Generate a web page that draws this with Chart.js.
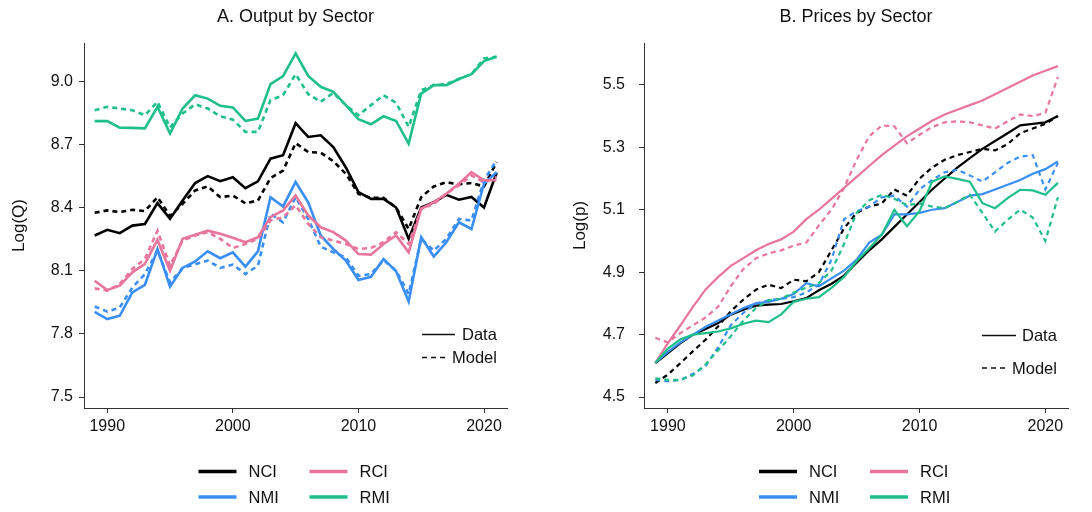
<!DOCTYPE html>
<html>
<head>
<meta charset="utf-8">
<script src="https://cdn.jsdelivr.net/npm/chart.js@4.4.1/dist/chart.umd.min.js"></script>
<style>
  body { margin: 0; background: #fff; }
  canvas { position: absolute; top: 0; }
</style>
</head>
<body>
<canvas id="chartQ" width="546" height="512" style="left:0"></canvas>
<canvas id="chartP" width="546" height="512" style="left:546px"></canvas>
<script>
// años y etiquetas
const years = [1989, 1990, 1991, 1992, 1993, 1994, 1995, 1996, 1997, 1998, 1999, 2000, 2001, 2002, 2003, 2004, 2005,
  2006, 2007, 2008, 2009, 2010, 2011, 2012, 2013, 2014, 2015, 2016, 2017, 2018, 2019, 2020, 2021];
const yearTicks = [1990, 2000, 2010, 2020];
const qTicks = [7.5, 7.8, 8.1, 8.4, 8.7, 9.0];
const pTicks = [4.5, 4.7, 4.9, 5.1, 5.3, 5.5];
const sectores = ["NCI", "NMI", "RCI", "RMI"];

// * #### A. OUTPUT (Log Q) ####
const q_nci_data = [8.267, 8.294, 8.278, 8.314, 8.322, 8.421, 8.346, 8.433, 8.516, 8.549, 8.525, 8.544, 8.492, 8.524, 8.632, 8.648, 8.80,
  8.735, 8.743, 8.687, 8.59, 8.473, 8.441, 8.441, 8.40, 8.251, 8.40, 8.425, 8.46, 8.437, 8.45, 8.40, 8.565];
const q_nci_model = [8.375, 8.386, 8.378, 8.389, 8.383, 8.449, 8.36, 8.417, 8.481, 8.50, 8.449, 8.457, 8.42, 8.433, 8.54, 8.575, 8.706,
  8.663, 8.66, 8.62, 8.56, 8.465, 8.446, 8.446, 8.40, 8.298, 8.449, 8.50, 8.52, 8.51, 8.516, 8.50, 8.615];
const q_nmi_data = [7.904, 7.87, 7.886, 7.997, 8.033, 8.203, 8.024, 8.113, 8.144, 8.192, 8.159, 8.187, 8.119, 8.192, 8.449, 8.405, 8.521,
  8.425, 8.267, 8.203, 8.148, 8.056, 8.071, 8.156, 8.097, 7.954, 8.259, 8.167, 8.235, 8.33, 8.298, 8.513, 8.568];
const q_nmi_model = [7.93, 7.906, 7.925, 8.02, 8.084, 8.195, 8.044, 8.113, 8.13, 8.148, 8.113, 8.129, 8.084, 8.124, 8.37, 8.33, 8.449,
  8.346, 8.214, 8.187, 8.163, 8.076, 8.084, 8.15, 8.10, 7.99, 8.251, 8.195, 8.251, 8.346, 8.338, 8.529, 8.624];
const q_rci_data = [8.052, 8.008, 8.029, 8.092, 8.132, 8.246, 8.10, 8.251, 8.271, 8.29, 8.275, 8.256, 8.235, 8.259, 8.354, 8.386, 8.457,
  8.362, 8.306, 8.283, 8.243, 8.179, 8.176, 8.227, 8.267, 8.187, 8.394, 8.425, 8.465, 8.513, 8.568, 8.529, 8.529];
const q_rci_model = [8.016, 8.005, 8.037, 8.108, 8.156, 8.29, 8.124, 8.243, 8.267, 8.283, 8.251, 8.208, 8.227, 8.251, 8.338, 8.354, 8.41,
  8.322, 8.259, 8.243, 8.227, 8.203, 8.208, 8.235, 8.283, 8.227, 8.394, 8.417, 8.465, 8.505, 8.552, 8.52, 8.544];
const q_rmi_data = [8.81, 8.81, 8.779, 8.778, 8.776, 8.878, 8.751, 8.87, 8.933, 8.917, 8.883, 8.875, 8.811, 8.822, 8.986, 9.024, 9.132,
  9.025, 8.973, 8.949, 8.886, 8.819, 8.795, 8.833, 8.811, 8.703, 8.941, 8.981, 8.981, 9.01, 9.033, 9.095, 9.116];
const q_rmi_model = [8.862, 8.878, 8.87, 8.862, 8.838, 8.902, 8.78, 8.846, 8.89, 8.87, 8.833, 8.817, 8.759, 8.759, 8.91, 8.933, 9.033,
  8.938, 8.902, 8.944, 8.886, 8.838, 8.886, 8.933, 8.897, 8.783, 8.957, 8.981, 8.986, 9.01, 9.033, 9.108, 9.116];

// * #### B. PRICES (Log p) ####
const p_nci_data = [4.609, 4.641, 4.673, 4.70, 4.718, 4.737, 4.764, 4.78, 4.793, 4.796, 4.798, 4.807, 4.817, 4.842, 4.863, 4.889, 4.93,
  4.97, 5.005, 5.045, 5.085, 5.125, 5.165, 5.20, 5.235, 5.265, 5.295, 5.32, 5.345, 5.37, 5.375, 5.38, 5.40];
const p_nci_model = [4.545, 4.572, 4.609, 4.647, 4.684, 4.727, 4.775, 4.812, 4.844, 4.86, 4.849, 4.876, 4.871, 4.90, 4.97, 5.04, 5.09,
  5.11, 5.12, 5.165, 5.145, 5.20, 5.235, 5.26, 5.275, 5.285, 5.295, 5.29, 5.31, 5.345, 5.36, 5.375, 5.40];
const p_nmi_data = [4.61, 4.645, 4.675, 4.70, 4.725, 4.745, 4.765, 4.785, 4.80, 4.805, 4.815, 4.83, 4.865, 4.855, 4.88, 4.905, 4.94,
  4.995, 5.02, 5.085, 5.085, 5.09, 5.10, 5.105, 5.125, 5.145, 5.15, 5.165, 5.18, 5.195, 5.215, 5.23, 5.255];
const p_nmi_model = [4.555, 4.55, 4.555, 4.575, 4.60, 4.66, 4.73, 4.77, 4.80, 4.81, 4.815, 4.82, 4.835, 4.86, 4.94, 5.07, 5.095,
  5.11, 5.14, 5.145, 5.11, 5.165, 5.195, 5.22, 5.228, 5.21, 5.19, 5.22, 5.25, 5.27, 5.275, 5.165, 5.25];
const p_rci_data = [4.61, 4.673, 4.73, 4.79, 4.845, 4.885, 4.92, 4.945, 4.97, 4.99, 5.005, 5.03, 5.07, 5.10, 5.135, 5.17, 5.205,
  5.24, 5.275, 5.305, 5.335, 5.36, 5.385, 5.405, 5.42, 5.435, 5.45, 5.47, 5.49, 5.51, 5.53, 5.545, 5.56];
const p_rci_model = [4.69, 4.675, 4.705, 4.73, 4.755, 4.79, 4.855, 4.91, 4.945, 4.96, 4.97, 4.985, 4.995, 5.05, 5.10, 5.17, 5.26,
  5.335, 5.37, 5.367, 5.313, 5.34, 5.365, 5.38, 5.383, 5.38, 5.37, 5.36, 5.383, 5.405, 5.40, 5.41, 5.525];
const p_rmi_data = [4.61, 4.655, 4.685, 4.70, 4.705, 4.71, 4.72, 4.735, 4.745, 4.74, 4.765, 4.805, 4.815, 4.82, 4.85, 4.885, 4.935,
  4.977, 5.02, 5.10, 5.047, 5.095, 5.19, 5.207, 5.199, 5.19, 5.121, 5.105, 5.137, 5.164, 5.162, 5.148, 5.186];
const p_rmi_model = [4.56, 4.555, 4.555, 4.57, 4.605, 4.65, 4.695, 4.745, 4.785, 4.81, 4.815, 4.835, 4.85, 4.865, 4.905, 4.99, 5.09,
  5.13, 5.148, 5.135, 5.115, 5.12, 5.11, 5.105, 5.125, 5.148, 5.09, 5.03, 5.068, 5.10, 5.075, 5.00, 5.14];

const colores = { NCI: "#000000", NMI: "#3a8ff6", RCI: "#e8759c", RMI: "#1fbf88" };
const FONT = "'Liberation Sans', Helvetica, Arial, sans-serif";
const AXIS = "#333333";

function serie(label, valores, dashed, width) {
  return {
    label: label,
    data: years.map((y, i) => ({ x: y, y: valores[i] })),
    borderColor: colores[label],
    borderWidth: width,
    borderDash: dashed ? [5, 4] : [],
    pointRadius: 0,
    tension: 0,
    fill: false,
  };
}

// titulo, leyenda inferior y leyenda Data/Model
const panelText = {
  id: "panelText",
  afterDraw(chart, args, o) {
    const c = chart.ctx;
    const a = chart.chartArea;
    const cx = (a.left + a.right) / 2;
    c.save();
    c.fillStyle = "#111";
    c.textBaseline = "middle";
    c.font = "18px " + FONT;
    c.textAlign = "center";
    c.fillText(o.title, cx, 17);

    // NCI RCI / NMI RMI
    c.font = "16.5px " + FONT;
    c.textAlign = "left";
    const cols = [cx - 97, cx + 14];
    const rows = [471.5, 497];
    sectores.forEach((s, i) => {
      const x0 = cols[i < 2 ? 0 : 1];
      const y0 = rows[i % 2];
      c.strokeStyle = colores[s];
      c.lineWidth = 3.4;
      c.beginPath();
      c.moveTo(x0, y0);
      c.lineTo(x0 + 38, y0);
      c.stroke();
      c.fillText(s, x0 + 50, y0 + 1);
    });

    // Data / Model
    c.strokeStyle = "#111";
    c.lineWidth = 1.3;
    o.key.forEach((k) => {
      c.setLineDash(k.dash);
      c.beginPath();
      c.moveTo(a.left + k.x0, k.y);
      c.lineTo(a.left + k.x1, k.y);
      c.stroke();
      c.fillText(k.text, a.left + k.tx, k.y + 1);
    });
    c.restore();
  },
};

function opciones(cfg) {
  return {
    responsive: false,
    animation: false,
    layout: { padding: { top: 43, bottom: 64, left: 0, right: cfg.right } },
    plugins: {
      legend: { display: false },
      tooltip: { enabled: false },
      panelText: { title: cfg.title, key: cfg.key },
    },
    scales: {
      x: {
        type: "linear",
        min: cfg.xmin,
        max: cfg.xmax,
        afterBuildTicks: (s) => { s.ticks = yearTicks.map((v) => ({ value: v })); },
        afterFit: (s) => { s.height = 40; },
        ticks: { color: "#111", font: { size: 16, family: FONT }, padding: 4, maxRotation: 0, callback: (v) => String(v) },
        grid: { drawOnChartArea: false, drawTicks: true, tickLength: 5, color: AXIS },
        border: { display: true, color: AXIS, width: 1 },
      },
      y: {
        min: cfg.ymin,
        max: cfg.ymax,
        afterBuildTicks: (s) => { s.ticks = cfg.yticks.map((v) => ({ value: v })); },
        afterFit: (s) => { s.width = cfg.ywidth; },
        ticks: { color: "#111", font: { size: 16, family: FONT }, padding: cfg.ypad, callback: (v) => v.toFixed(1) },
        grid: { drawOnChartArea: false, drawTicks: true, tickLength: 5, color: AXIS },
        border: { display: true, color: AXIS, width: 1 },
        title: { display: true, text: cfg.ylabel, color: "#111", font: { size: 17, family: FONT }, padding: { top: cfg.ytitlePad, bottom: 0 } },
      },
    },
  };
}

function datasets(list, width) {
  const out = [];
  list.forEach(([s, d, m]) => {
    out.push(serie(s, d, false, width));
    out.push(serie(s, m, true, width));
  });
  return out;
}

new Chart(document.getElementById("chartQ"), {
  type: "line",
  data: {
    datasets: datasets([
      ["RMI", q_rmi_data, q_rmi_model],
      ["RCI", q_rci_data, q_rci_model],
      ["NMI", q_nmi_data, q_nmi_model],
      ["NCI", q_nci_data, q_nci_model],
    ], 2.6),
  },
  options: opciones({
    title: "A. Output by Sector", ylabel: "Log(Q)",
    xmin: 1988.15, xmax: 2021.83, ymin: 7.448, ymax: 9.181, yticks: qTicks,
    ywidth: 84, ypad: 6, ytitlePad: 9, right: 39,
    key: [
      { text: "Data", dash: [], x0: 338, x1: 371, tx: 378, y: 334.5 },
      { text: "Model", dash: [5, 4], x0: 338, x1: 361, tx: 368, y: 357.5 },
    ],
  }),
  plugins: [panelText],
});

new Chart(document.getElementById("chartP"), {
  type: "line",
  data: {
    datasets: datasets([
      ["RMI", p_rmi_data, p_rmi_model],
      ["RCI", p_rci_data, p_rci_model],
      ["NMI", p_nmi_data, p_nmi_model],
      ["NCI", p_nci_data, p_nci_model],
    ], 2.2),
  },
  options: opciones({
    title: "B. Prices by Sector", ylabel: "Log(p)",
    xmin: 1988.1, xmax: 2021.8, ymin: 4.465, ymax: 5.634, yticks: pTicks,
    ywidth: 98, ypad: 14, ytitlePad: 24, right: 24,
    key: [
      { text: "Data", dash: [], x0: 338, x1: 372, tx: 378, y: 335.5 },
      { text: "Model", dash: [5, 4], x0: 338, x1: 362, tx: 368, y: 368 },
    ],
  }),
  plugins: [panelText],
});
</script>
</body>
</html>
